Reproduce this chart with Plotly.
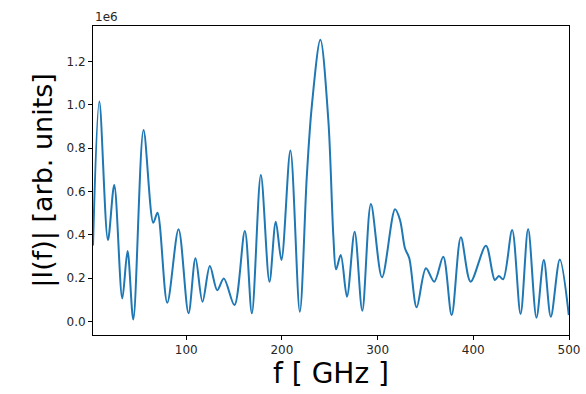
import plotly.graph_objects as go

# Frequency (GHz) and |I(f)| (in units of 1e6)
freq = [2.6, 9.2, 18.2, 24.8, 33.2, 38.7, 44.7, 55.4, 65.6, 70.0, 80.2, 92.0,
        102.4, 109.7, 117.0, 124.7, 132.4, 139.3, 150.4, 161.3, 168.6, 178.0,
        187.0, 193.6, 199.5, 208.9, 218.7, 226.0, 231.2, 240.2, 248.5, 253.8,
        256.6, 261.5, 268.0, 276.0, 284.0, 293.0, 304.6, 318.2, 323.4, 328.6,
        333.1, 340.8, 350.5, 359.2, 368.6, 377.4, 387.0, 397.2, 413.2, 422.5,
        426.7, 431.2, 440.6, 449.4, 457.3, 466.0, 473.7, 481.0, 490.4, 499.8]
amp = [0.35, 1.014, 0.375, 0.629, 0.106, 0.325, 0.009, 0.883, 0.455, 0.501,
       0.086, 0.425, 0.037, 0.291, 0.09, 0.255, 0.144, 0.198, 0.075, 0.417,
       0.037, 0.675, 0.183, 0.46, 0.283, 0.788, 0.044, 0.668, 0.991, 1.299,
       0.929, 0.39, 0.24, 0.306, 0.114, 0.414, 0.049, 0.541, 0.203, 0.517,
       0.468, 0.337, 0.291, 0.065, 0.245, 0.183, 0.298, 0.029, 0.388, 0.183,
       0.349, 0.191, 0.209, 0.194, 0.421, 0.034, 0.426, 0.017, 0.283, 0.021,
       0.286, 0.029]

x_ticks = [100, 200, 300, 400, 500]
y_ticks = [0.0, 0.2, 0.4, 0.6, 0.8, 1.0, 1.2]

fig = go.Figure()
fig.add_trace(go.Scatter(x=freq, y=amp, mode="lines",
                         line=dict(color="#1f77b4", width=2, shape="spline", smoothing=0.9),
                         showlegend=False))

axis_common = dict(showline=True, linecolor="black", linewidth=1, mirror=True,
                   ticks="outside", ticklen=4, tickwidth=1, tickcolor="black",
                   showgrid=False, zeroline=False, automargin=False,
                   tickfont=dict(family="DejaVu Sans", size=12, color="#262626"))

fig.update_layout(
    width=586, height=394, autosize=False,
    margin=dict(l=93, r=17, t=26, b=59),
    plot_bgcolor="white", paper_bgcolor="white",
    xaxis=dict(range=[2.6, 500], tickvals=x_ticks,
               title=dict(text="f [ GHz ]", font=dict(family="DejaVu Sans", size=28, color="black"),
                          standoff=2),
               **axis_common),
    yaxis=dict(range=[-0.063, 1.363], tickvals=y_ticks, tickformat=".1f",
               title=dict(text="|I(f)| [arb. units]", font=dict(family="DejaVu Sans", size=27, color="black"),
                          standoff=6),
               **axis_common),
    annotations=[dict(text="1e6", xref="paper", yref="paper", x=0, y=1,
                      xanchor="left", yanchor="bottom", showarrow=False,
                      font=dict(family="DejaVu Sans", size=12, color="#262626"))],
)

fig.write_html("out.html", config={"responsive": False})
